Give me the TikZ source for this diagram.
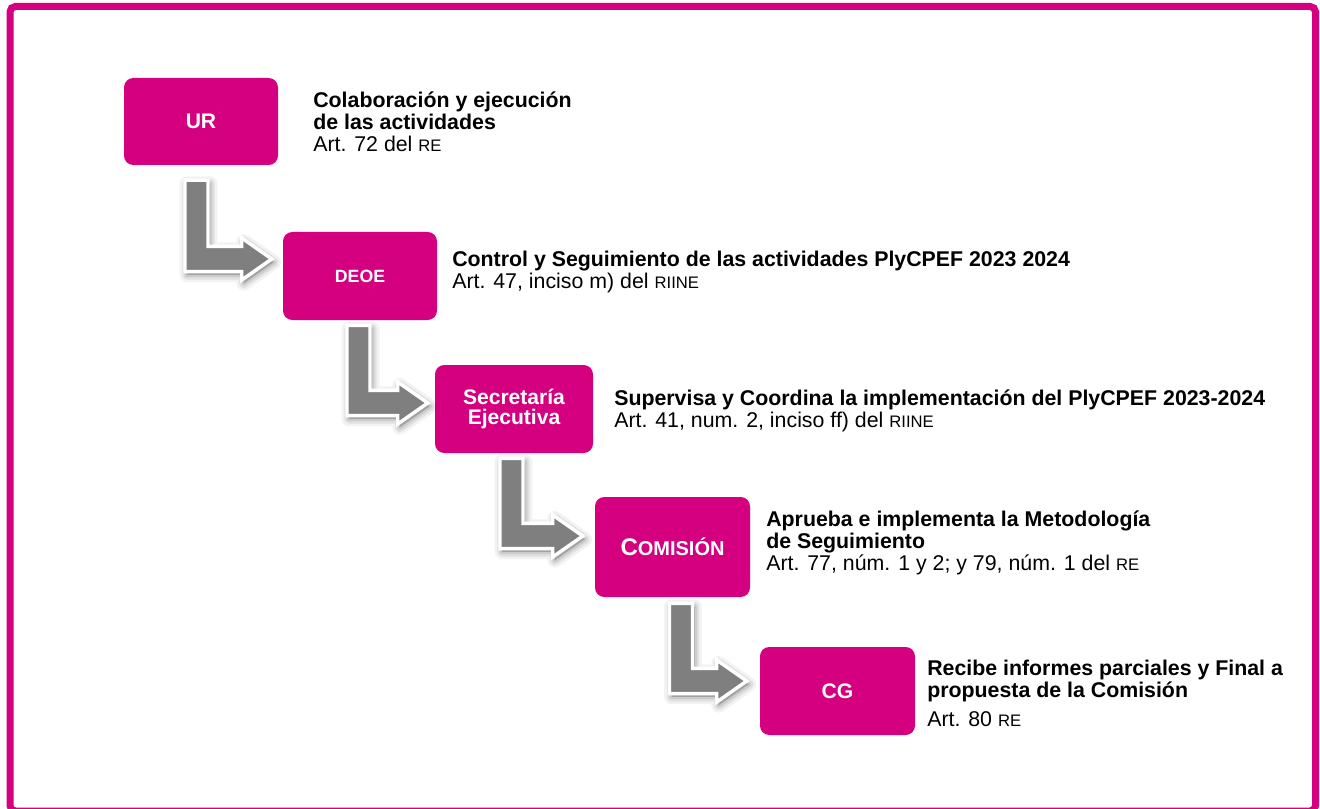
\documentclass[tikz,border=0pt]{standalone}
\usepackage{fontspec}
\setmainfont{Liberation Sans}
\usetikzlibrary{calc}
\definecolor{inepink}{HTML}{D5007F}
\definecolor{arrowgray}{HTML}{7F7F7F}
\newcommand\sm[1]{{\fontsize{12.5pt}{12pt}\selectfont #1}}
\tikzset{
  box/.style={fill=inepink, rounded corners=7pt, text=white, font=\bfseries\fontsize{15.8pt}{15pt}\selectfont, align=center, inner sep=0pt},
  desc/.style={anchor=base west, align=left, inner sep=0pt, font=\fontsize{16pt}{16.5pt}\selectfont},
  shade layer/.style={preaction={draw=black, line join=round, opacity=#1}},
  bent/.style={fill=arrowgray, draw=white, line width=2.6pt, line join=miter,
    preaction={draw=black, fill=black, opacity=0.05, line width=11pt, line join=round, transform canvas={shift={(1.5pt,-2.5pt)}}},
    preaction={draw=black, fill=black, opacity=0.07, line width=7pt, line join=round, transform canvas={shift={(1.5pt,-2.5pt)}}},
    preaction={draw=black, fill=black, opacity=0.09, line width=3.5pt, line join=round, transform canvas={shift={(1.5pt,-2.5pt)}}}},
  frame/.style={draw=inepink, line width=5.25pt, rounded corners=4pt}
}
% #1 from, #2 to, #3 stem dx, #4 top dy, #5 tip dx, #6 bar dy
\newcommand\bentarrow[6]{%
  \path[bent] let \p1=($(#1.south)+(#3,#4)$), \p2=($(#2.west)+(#5,#6)$) in
  (\x1,\y1) -- (\x1+17.25pt,\y1) -- (\x1+17.25pt,\y2+9.4pt) -- (\x2-22.5pt,\y2+9.4pt)
  -- (\x2-22.5pt,\y2+15.75pt) -- (\x2,\y2) -- (\x2-22.5pt,\y2-15.75pt)
  -- (\x2-22.5pt,\y2-9.4pt) -- (\x1,\y2-9.4pt) -- cycle;}
\begin{document}
\begin{tikzpicture}[x=0.75pt,y=-0.75pt]
\useasboundingbox (0,0) rectangle (1320,809);
\fill[white] (0,0) rectangle (1320,809);
\draw[frame] (10,6.5) rectangle (1315.5,811);

\node[box, minimum width=115.5pt, minimum height=65.25pt] (ur) at (201,121.5) {UR};
\node[box, minimum width=115.5pt, minimum height=66pt, font=\bfseries\fontsize{13.3pt}{13pt}\selectfont] (deoe) at (360,276) {DEOE};
\node[box, minimum width=118.5pt, minimum height=66pt] (se) at (514,409) {Secretaría\\Ejecutiva};
\node[box, minimum width=116.25pt, minimum height=75pt] (com) at (672.5,547) {{\fontsize{18pt}{18pt}\selectfont C}{\fontsize{15pt}{15pt}\selectfont OMISIÓN}};
\node[box, minimum width=116.25pt, minimum height=66pt] (cg) at (837.5,691) {CG};

\bentarrow{ur}{deoe}{-16}{15}{-11}{-17}
\bentarrow{deoe}{se}{-13}{5}{-7}{-6}
\bentarrow{se}{com}{-14}{5}{-12}{-11}
\bentarrow{com}{cg}{-3}{6}{-13}{-10}

\node[desc] (t1) at (313,152) {\textbf{Colaboración y ejecución}\\\textbf{de las actividades}\\Art. 72 del \sm{RE}};
\node[desc] (t2) at (452,288) {\textbf{Control y Seguimiento de las actividades PlyCPEF 2023 2024}\\Art. 47, inciso m) del \sm{RIINE}};
\node[desc] (t3) at (614,427) {\textbf{Supervisa y Coordina la implementación del PlyCPEF 2023-2024}\\Art. 41, num. 2, inciso ff) del \sm{RIINE}};
\node[desc] (t4) at (766,570) {\textbf{Aprueba e implementa la Metodología}\\\textbf{de Seguimiento}\\Art. 77, núm. 1 y 2; y 79, núm. 1 del \sm{RE}};
\node[desc] (t5) at (927,726) {\textbf{Recibe informes parciales y Final a}\\\textbf{propuesta de la Comisión}\\[5pt]Art. 80 \sm{RE}};
\end{tikzpicture}
\end{document}
